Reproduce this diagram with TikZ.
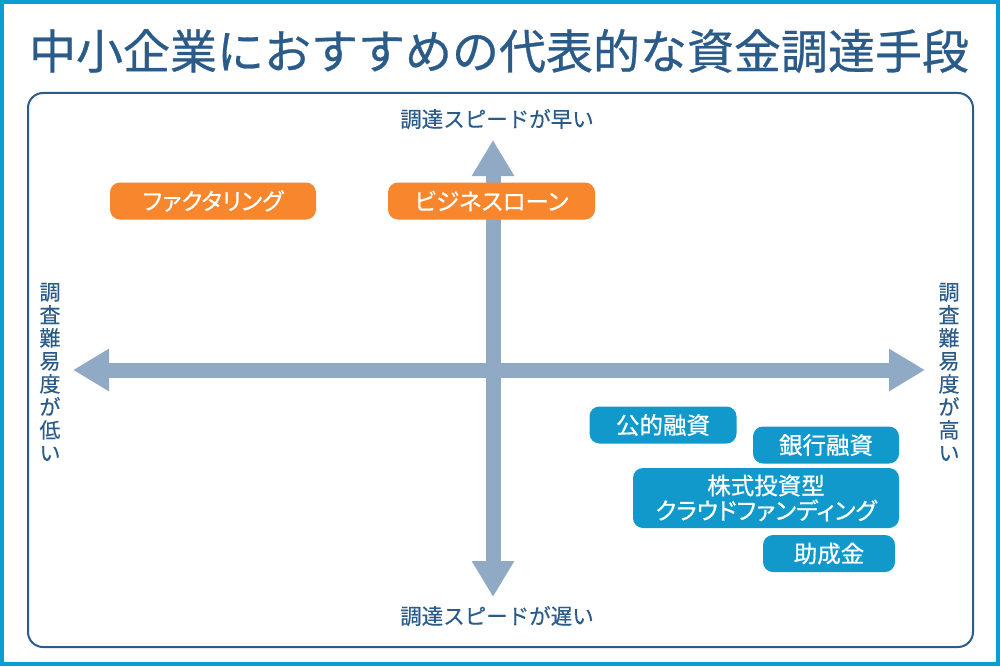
\documentclass[tikz,border=0pt]{standalone}
\usepackage{fontspec}
\setmainfont{Noto Sans CJK JP}
\newfontfamily\boxfont[FakeBold=0.6,RawFeature=+palt]{Noto Sans CJK JP}
\newfontfamily\labfont[FakeBold=0.3]{Noto Sans CJK JP}
\newfontfamily\titfont[FakeBold=0.6]{Noto Sans CJK JP}
\usetikzlibrary{arrows.meta}
\definecolor{framec}{HTML}{0A9DD1}
\definecolor{navy}{HTML}{2B5B88}
\definecolor{arrowc}{HTML}{90AAC6}
\definecolor{orangec}{HTML}{F7862C}
\definecolor{bluec}{HTML}{1199CB}
\begin{document}
\begin{tikzpicture}[x=1pt,y=-1pt,
  axis/.style={line width=15pt, draw=arrowc, arrows={Triangle[width=40pt,length=36pt]-Triangle[width=40pt,length=36pt]}},
  hlabel/.style={text=navy, font=\labfont\fontsize{21.5}{23}\selectfont, inner sep=0pt},
  vlabel/.style={text=navy, font=\labfont\fontsize{21}{23}\selectfont, align=center, inner sep=0pt},
  obox/.style={fill=orangec, text=white, rounded corners=10pt, font=\boxfont\fontsize{23.5}{25}\selectfont, inner sep=0pt},
  bbox/.style={fill=bluec, text=white, rounded corners=10pt, font=\boxfont\fontsize{23.5}{25}\selectfont, inner sep=0pt, align=center}
]
\useasboundingbox (0,0) rectangle (1000,666);
\fill[framec] (0,0) rectangle (1000,666);
\fill[white] (4,4) rectangle (996,662);
\draw[navy, line width=2pt, rounded corners=15pt] (28,93) rectangle (973,647);

\node[text=navy, font=\titfont\fontsize{47}{50}\selectfont, inner sep=0pt] (title) at (499,51) {中小企業におすすめの代表的な資金調達手段};

\coordinate (left) at (73,370);
\coordinate (right) at (925,370);
\coordinate (top) at (493,140);
\coordinate (bottom) at (493,597);
\draw[axis] (left) -- (right);
\draw[axis] (top) -- (bottom);

\node[hlabel] (fast) at (497,119) {調達スピードが早い};
\node[hlabel] (slow) at (497,616) {調達スピードが遅い};
\node[vlabel] (low) at (50,372) {調\\査\\難\\易\\度\\が\\低\\い};
\node[vlabel] (high) at (949,372) {調\\査\\難\\易\\度\\が\\高\\い};

\node[obox, minimum width=206pt, minimum height=37pt] (fact) at (213,201) {ファクタリング};
\node[obox, minimum width=207pt, minimum height=37pt] (loan) at (491.5,201) {ビジネスローン};

\node[bbox, minimum width=147pt, minimum height=37pt] (public) at (663,425) {公的融資};
\node[bbox, minimum width=146pt, minimum height=37pt] (bank) at (826,445) {銀行融資};
\node[bbox, minimum width=266pt, minimum height=60pt] (crowd) at (766,498) {株式投資型\\クラウドファンディング};
\node[bbox, minimum width=132pt, minimum height=37pt] (grant) at (829,553.5) {助成金};
\end{tikzpicture}
\end{document}
